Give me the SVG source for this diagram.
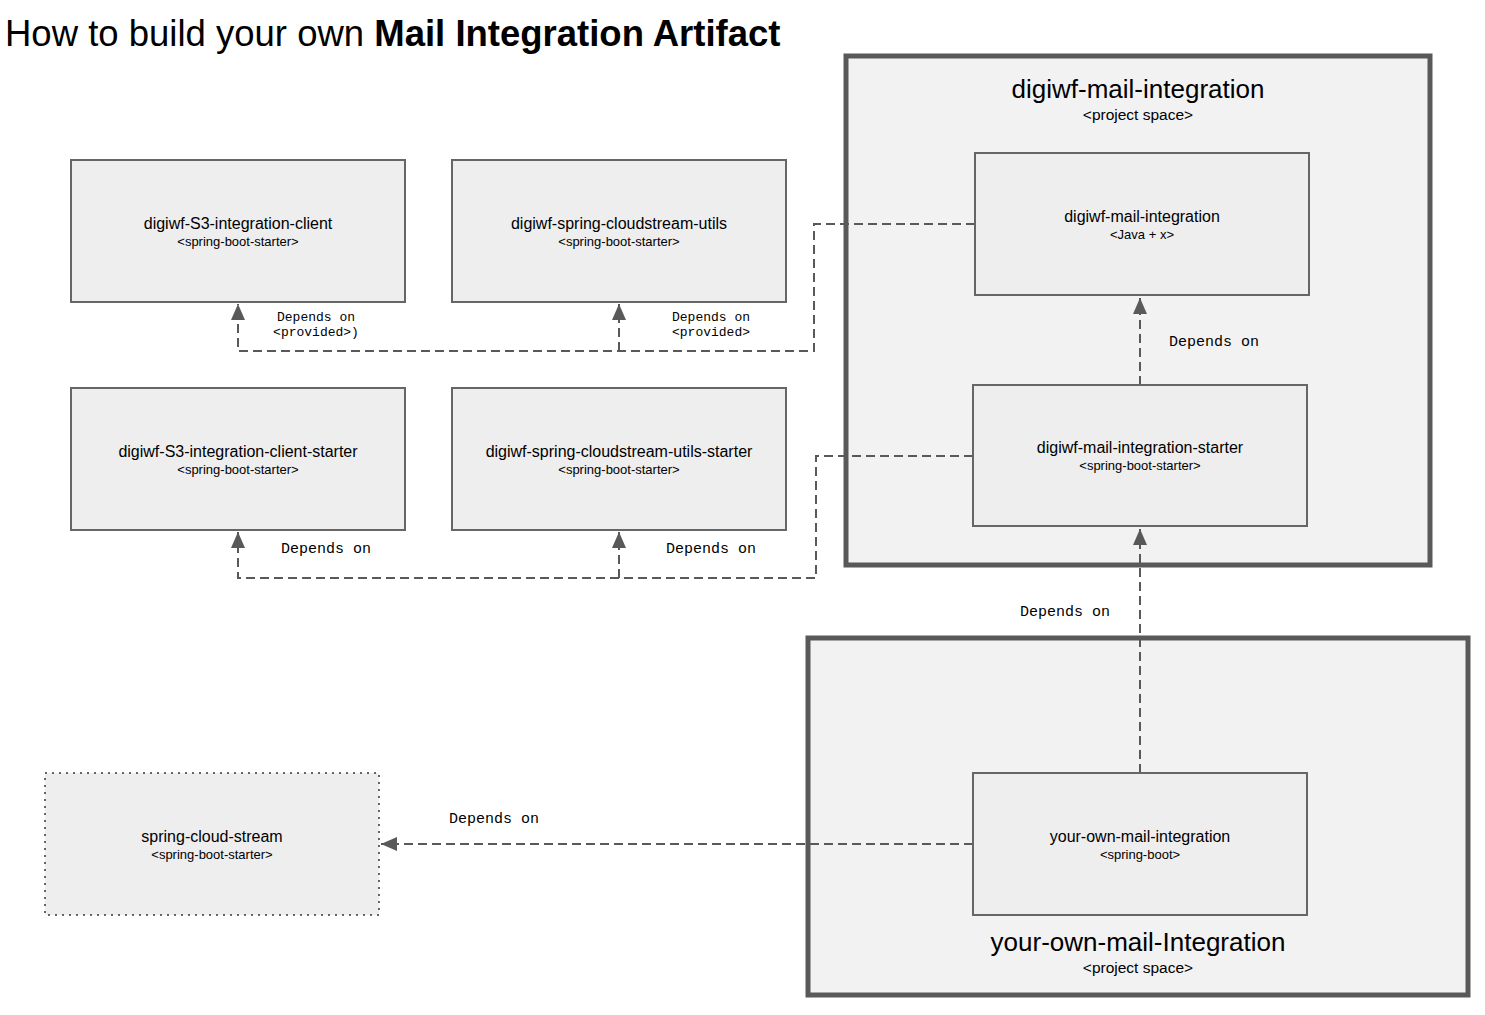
<svg xmlns="http://www.w3.org/2000/svg" width="1485" height="1015" viewBox="0 0 1485 1015">
<defs>
<style>
.node{fill:#eeeeee;stroke:#666666;stroke-width:2}
.cont{fill:#f2f2f2;stroke:#595959;stroke-width:5}
.t{font-family:"Liberation Sans",Arial,sans-serif;fill:#000;text-anchor:middle}
.m{font-size:16px}
.s{font-size:13px}
.ct{font-size:26px}
.cs{font-size:15.5px}
.lbl{font-family:"Liberation Mono","Courier New",monospace;fill:#000;font-size:15px;text-anchor:middle}
.lbls{font-family:"Liberation Mono","Courier New",monospace;fill:#000;font-size:13px;text-anchor:middle}
.conn{fill:none;stroke:#595959;stroke-width:2;stroke-dasharray:9 5}
</style>
<marker id="arr" viewBox="0 0 16 14" refX="16" refY="7" markerWidth="16" markerHeight="14" markerUnits="userSpaceOnUse" orient="auto">
<path d="M0,0 L16,7 L0,14 Z" fill="#595959"/>
</marker>
</defs>
<rect width="1485" height="1015" fill="#ffffff"/>
<text x="5" y="46" font-family="'Liberation Sans',Arial,sans-serif" font-size="36.5" fill="#000">How to build your own <tspan font-weight="bold">Mail Integration Artifact</tspan></text>

<g id="digiwf-mail-integration-space">
<rect class="cont" x="846" y="56" width="584" height="509"/>
<text class="t ct" x="1138" y="98">digiwf-mail-integration</text>
<text class="t cs" x="1138" y="120">&lt;project space&gt;</text>
</g>
<g id="your-own-mail-integration-space">
<rect class="cont" x="808" y="638" width="660" height="357"/>
<text class="t ct" x="1138" y="951">your-own-mail-Integration</text>
<text class="t cs" x="1138" y="973">&lt;project space&gt;</text>
</g>

<g id="connectors">
<path class="conn" d="M975,224 H814 V351 H238 V304" marker-end="url(#arr)"/>
<path class="conn" d="M619,351 V304" marker-end="url(#arr)"/>
<path class="conn" d="M973,456 H816 V578 H238 V532" marker-end="url(#arr)"/>
<path class="conn" d="M619,578 V532" marker-end="url(#arr)"/>
<path class="conn" d="M1140,385 V298" marker-end="url(#arr)"/>
<path class="conn" d="M1140,773 V529" marker-end="url(#arr)"/>
<path class="conn" d="M973,844 H381" marker-end="url(#arr)"/>
<text class="lbls" x="316" y="321">Depends on</text>
<text class="lbls" x="316" y="336">&lt;provided&gt;)</text>
<text class="lbls" x="711" y="321">Depends on</text>
<text class="lbls" x="711" y="336">&lt;provided&gt;</text>
<text class="lbl" x="326" y="553">Depends on</text>
<text class="lbl" x="711" y="553">Depends on</text>
<text class="lbl" x="1214" y="346">Depends on</text>
<text class="lbl" x="1065" y="616">Depends on</text>
<text class="lbl" x="494" y="823">Depends on</text>
</g>

<g id="digiwf-s3-integration-client">
<rect class="node" x="71" y="160" width="334" height="142"/>
<text class="t m" x="238" y="229">digiwf-S3-integration-client</text>
<text class="t s" x="238" y="246">&lt;spring-boot-starter&gt;</text>
</g>
<g id="digiwf-spring-cloudstream-utils">
<rect class="node" x="452" y="160" width="334" height="142"/>
<text class="t m" x="619" y="229">digiwf-spring-cloudstream-utils</text>
<text class="t s" x="619" y="246">&lt;spring-boot-starter&gt;</text>
</g>
<g id="digiwf-s3-integration-client-starter">
<rect class="node" x="71" y="388" width="334" height="142"/>
<text class="t m" x="238" y="457">digiwf-S3-integration-client-starter</text>
<text class="t s" x="238" y="474">&lt;spring-boot-starter&gt;</text>
</g>
<g id="digiwf-spring-cloudstream-utils-starter">
<rect class="node" x="452" y="388" width="334" height="142"/>
<text class="t m" x="619" y="457">digiwf-spring-cloudstream-utils-starter</text>
<text class="t s" x="619" y="474">&lt;spring-boot-starter&gt;</text>
</g>
<g id="digiwf-mail-integration">
<rect class="node" x="975" y="153" width="334" height="142"/>
<text class="t m" x="1142" y="222">digiwf-mail-integration</text>
<text class="t s" x="1142" y="239">&lt;Java + x&gt;</text>
</g>
<g id="digiwf-mail-integration-starter">
<rect class="node" x="973" y="385" width="334" height="141"/>
<text class="t m" x="1140" y="453">digiwf-mail-integration-starter</text>
<text class="t s" x="1140" y="470">&lt;spring-boot-starter&gt;</text>
</g>
<g id="your-own-mail-integration">
<rect class="node" x="973" y="773" width="334" height="142"/>
<text class="t m" x="1140" y="842">your-own-mail-integration</text>
<text class="t s" x="1140" y="859">&lt;spring-boot&gt;</text>
</g>
<g id="spring-cloud-stream">
<rect x="45" y="773" width="334" height="142" fill="#eeeeee" stroke="#666666" stroke-width="2" stroke-dasharray="2 5"/>
<text class="t m" x="212" y="842">spring-cloud-stream</text>
<text class="t s" x="212" y="859">&lt;spring-boot-starter&gt;</text>
</g>
</svg>
